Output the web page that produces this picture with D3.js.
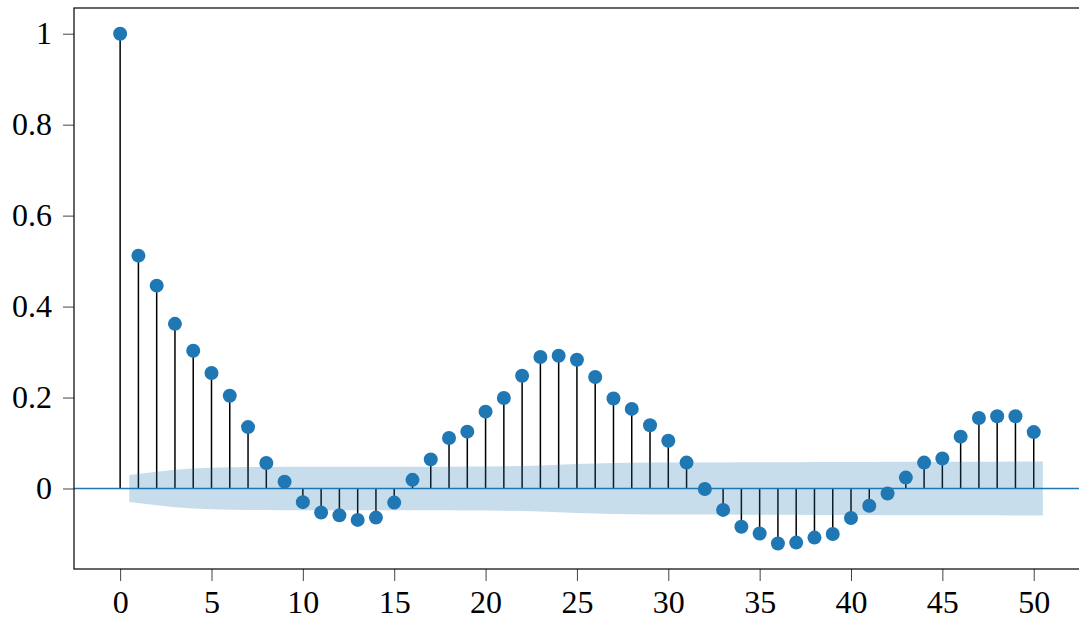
<!DOCTYPE html>
<html>
<head>
<meta charset="utf-8">
<script src="https://cdn.jsdelivr.net/npm/d3@7"></script>
<style>
  html, body { margin: 0; padding: 0; background: #fff; overflow: hidden; }
  svg { display: block; }
  .tick text { font-family: "Liberation Serif", "DejaVu Serif", serif; fill: #000; }
</style>
</head>
<body>
<svg id="chart" width="1079" height="619"></svg>
<script>
// Autocorrelation by lag (lag 0 .. 50)
const lags = d3.range(0, 51);
const acfValues = [
  1.000, 0.512, 0.446, 0.362, 0.303, 0.254, 0.204, 0.135, 0.056, 0.015,
  -0.030, -0.053, -0.059, -0.069, -0.064, -0.031, 0.019, 0.064, 0.111, 0.125,
  0.169, 0.199, 0.248, 0.289, 0.292, 0.283, 0.245, 0.198, 0.175, 0.139,
  0.105, 0.057, -0.001, -0.047, -0.084, -0.099, -0.121, -0.119, -0.108, -0.100,
  -0.065, -0.038, -0.011, 0.024, 0.057, 0.066, 0.114, 0.155, 0.159, 0.159,
  0.124
];
// Half-width of the 95% confidence band for lags 1 .. 50
const bandHalfWidth = [
  0.0297, 0.0367, 0.0412, 0.0439, 0.0457, 0.0466, 0.0472, 0.0475, 0.0476, 0.0476,
  0.0476, 0.0477, 0.0477, 0.0478, 0.0479, 0.0479, 0.0479, 0.0480, 0.0482, 0.0485,
  0.0490, 0.0497, 0.0508, 0.0522, 0.0536, 0.0549, 0.0558, 0.0564, 0.0569, 0.0572,
  0.0574, 0.0574, 0.0574, 0.0575, 0.0576, 0.0577, 0.0579, 0.0581, 0.0583, 0.0585,
  0.0585, 0.0586, 0.0586, 0.0586, 0.0586, 0.0587, 0.0589, 0.0590, 0.0591, 0.0592
];
const xTicks = [0, 5, 10, 15, 20, 25, 30, 35, 40, 45, 50];
const yTicks = [0, 0.2, 0.4, 0.6, 0.8, 1];

const blue = "#1f77b4";
const svg = d3.select("#chart");

const plotLeft = 74, plotRight = 1089, plotTop = 8, plotBottom = 569;
const x = d3.scaleLinear().domain([-2.525, 53.025]).range([plotLeft, plotRight]);
const y = d3.scaleLinear().domain([-0.177, 1.0565]).range([plotBottom, plotTop]);

// Confidence band: lags 1..50, with ends pushed out by half a lag
const bandPts = bandHalfWidth.map((h, i) => {
  let lag = i + 1;
  if (i === 0) lag -= 0.5;
  if (i === bandHalfWidth.length - 1) lag += 0.5;
  return { lag, lo: -h, hi: h };
});

// Stems
svg.append("g")
  .selectAll("line")
  .data(lags)
  .join("line")
  .attr("x1", d => x(d)).attr("x2", d => x(d))
  .attr("y1", y(0)).attr("y2", d => y(acfValues[d]))
  .attr("stroke", "#000").attr("stroke-width", 1.5);

// Zero line
svg.append("line")
  .attr("x1", plotLeft).attr("x2", plotRight)
  .attr("y1", y(0)).attr("y2", y(0))
  .attr("stroke", blue).attr("stroke-width", 1.5);

// Markers
svg.append("g")
  .selectAll("circle")
  .data(lags)
  .join("circle")
  .attr("cx", d => x(d))
  .attr("cy", d => y(acfValues[d]))
  .attr("r", 7)
  .attr("fill", blue);

svg.append("path")
  .datum(bandPts)
  .attr("d", d3.area().x(d => x(d.lag)).y0(d => y(d.lo)).y1(d => y(d.hi)))
  .attr("fill", blue).attr("fill-opacity", 0.25).attr("stroke", "none");

// Axes
const xAxis = svg.append("g")
  .attr("transform", `translate(0,${plotBottom})`)
  .call(d3.axisBottom(x).tickValues(xTicks).tickFormat(d3.format("d")).tickSize(12).tickPadding(9));
const yAxis = svg.append("g")
  .attr("transform", `translate(${plotLeft},0)`)
  .call(d3.axisLeft(y).tickValues(yTicks).tickFormat(d => d === 0 || d === 1 ? String(d) : d3.format(".1f")(d)).tickSize(11).tickPadding(11));

[xAxis, yAxis].forEach(g => {
  g.select(".domain").remove();
  g.selectAll(".tick line").attr("stroke", "#444").attr("stroke-width", 1);
  g.selectAll(".tick text").style("font-size", "32px");
});

// Frame
svg.append("rect")
  .attr("x", plotLeft).attr("y", plotTop)
  .attr("width", plotRight - plotLeft).attr("height", plotBottom - plotTop)
  .attr("fill", "none").attr("stroke", "#000").attr("stroke-width", 1.2);
</script>
</body>
</html>
